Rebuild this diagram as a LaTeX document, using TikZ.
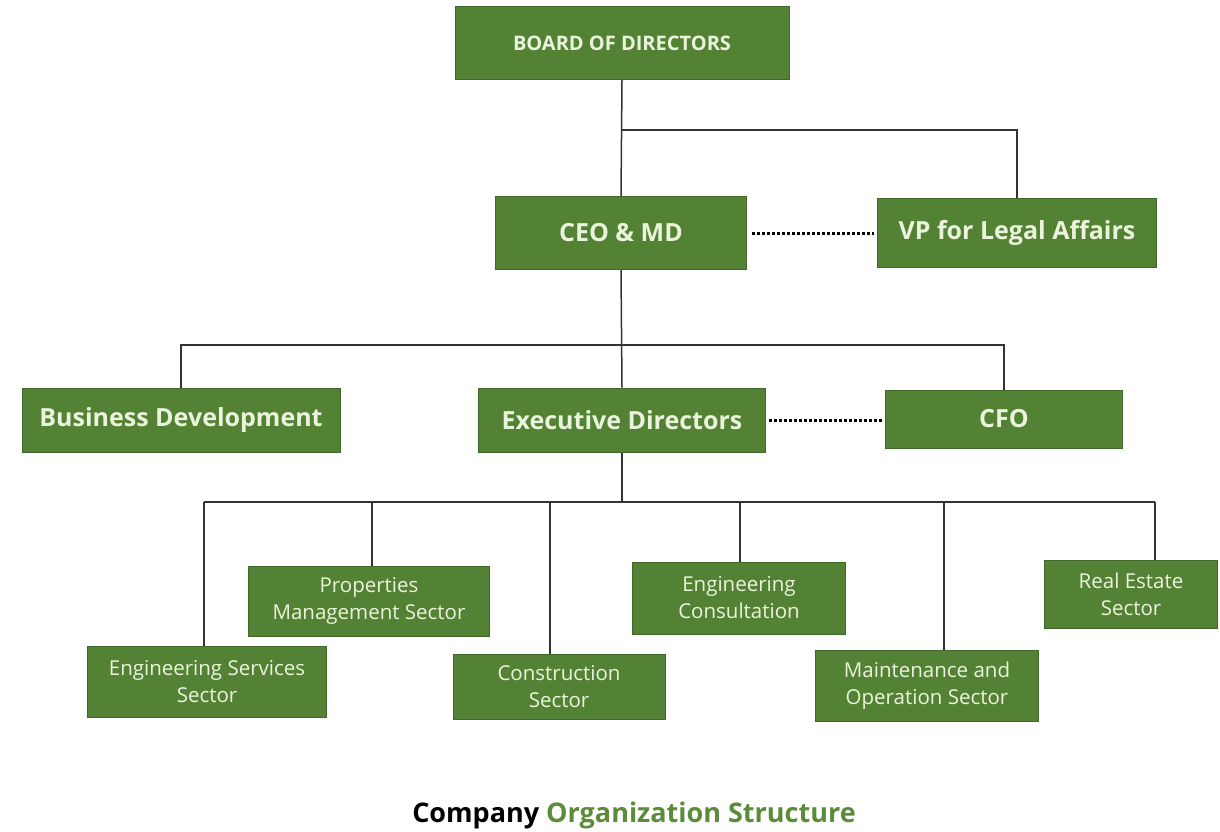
\documentclass[tikz,border=0pt]{standalone}
\usepackage{fontspec}
\setmainfont{Open Sans}
\usetikzlibrary{positioning,calc}
\definecolor{boxgreen}{HTML}{548235}
\definecolor{boxedge}{HTML}{41672B}
\definecolor{boxtext}{HTML}{EAF4DC}
\definecolor{titlegreen}{HTML}{5B8C3A}

\begin{document}
\begin{tikzpicture}[x=1pt,y=-1pt,
    box/.style={draw=boxedge, fill=boxgreen, text=boxtext, line width=1pt,
      font=\fontsize{25}{30}\selectfont\bfseries, align=center, inner sep=0pt},
    subbox/.style={box, font=\fontsize{20.5}{27}\selectfont},
    link/.style={draw=black!80, line width=1.5pt},
    staff/.style={line width=3pt, dash pattern=on 3pt off 2pt}]
      \useasboundingbox (0,0) rectangle (1220,831);

      % top levels
      \node[box, minimum width=334pt, minimum height=73pt, font=\fontsize{20}{24}\selectfont\bfseries]
        (board) at (622,43) {BOARD OF DIRECTORS};
      \node[box, minimum width=251pt, minimum height=73pt] (ceo) at (621,233) {CEO \& MD};
      \node[box, minimum width=279pt, minimum height=69pt] (vp) at (1017,233) {VP for Legal Affairs};

      \node[box, minimum width=318pt, minimum height=64pt] (bizdev) at (181,420) {Business Development};
      \node[box, minimum width=287pt, minimum height=64pt] (exec) at (622,420) {Executive Directors};
      \node[box, minimum width=237pt, minimum height=58pt] (cfo) at (1004,419) {CFO};

      % sectors
      \node[subbox, minimum width=239pt, minimum height=71pt] (engserv) at (207,682) {Engineering Services\\Sector};
      \node[subbox, minimum width=241pt, minimum height=70pt] (propmgmt) at (369,601) {Properties\\Management Sector};
      \node[subbox, minimum width=212pt, minimum height=65pt] (constr) at (559,687) {Construction\\Sector};
      \node[subbox, minimum width=213pt, minimum height=72pt] (engcons) at (739,598) {Engineering\\Consultation};
      \node[subbox, minimum width=223pt, minimum height=71pt] (maint) at (927,686) {Maintenance and\\Operation Sector};
      \node[subbox, minimum width=173pt, minimum height=68pt] (realest) at (1131,594) {Real Estate\\Sector};

      \node[font=\fontsize{27}{32}\selectfont\bfseries] (title) at (634,815)
        {Company \textcolor{titlegreen}{Organization Structure}};

      % reporting lines
      \coordinate (j1) at (622,130);
      \coordinate (j2) at (622,345);
      \coordinate (j3) at (622,502);
      \draw[link] (board.south) -- (ceo.north);
      \draw[link] (j1) -| (vp.north);
      \draw[link] (ceo.south) -- (exec.north);
      \draw[link] (bizdev.north) |- (j2) -| (cfo.north);
      \draw[link] (exec.south) -- (j3);

      \coordinate (s1) at (204,502);
      \coordinate (s2) at (372,502);
      \coordinate (s3) at (550,502);
      \coordinate (s4) at (740,502);
      \coordinate (s5) at (944,502);
      \coordinate (s6) at (1155,502);
      \draw[link] (s1) -- (s6);
      \draw[link] (s1) -- (s1 |- engserv.north);
      \draw[link] (s2) -- (s2 |- propmgmt.north);
      \draw[link] (s3) -- (s3 |- constr.north);
      \draw[link] (s4) -- (s4 |- engcons.north);
      \draw[link] (s5) -- (s5 |- maint.north);
      \draw[link] (s6) -- (s6 |- realest.north);

      % dotted staff lines
      \draw[staff, shorten <=5pt, shorten >=3pt] (ceo.east) -- (vp.west);
      \draw[staff, shorten <=3pt, shorten >=2pt] (exec.east) -- (exec.east -| cfo.west);

    \end{tikzpicture}
\end{document}
